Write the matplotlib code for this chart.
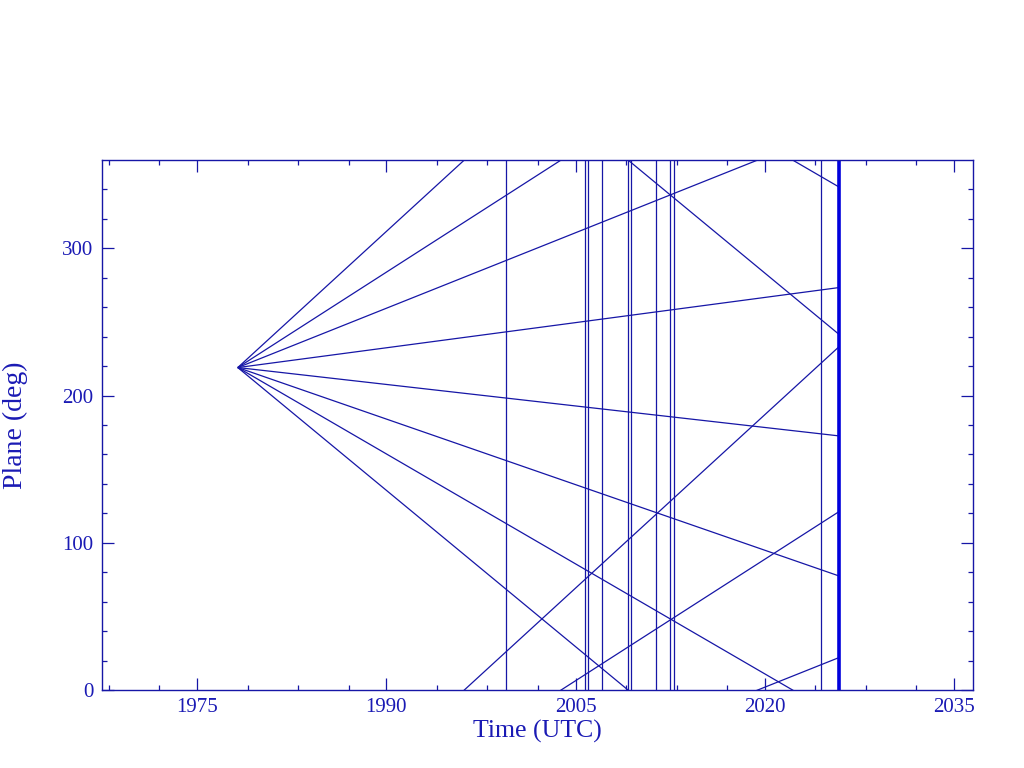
import numpy as np
import matplotlib
matplotlib.use("Agg")
import matplotlib.pyplot as plt
from matplotlib.ticker import FixedLocator

# ---- data ----
t_start = 1978.22          # common epoch of the fan of planes (year)
plane_start = 219.0        # plane at the epoch (deg)
t_end = 2025.85            # end of the propagation (thick marker)
rates = [7.85, 5.50, 3.42, 1.14, -0.974, -2.97, -4.98, -7.08]  # deg / year
event_times = [1999.50, 2005.78, 2005.98, 2007.09, 2009.17, 2009.41,
               2011.40, 2012.52, 2012.81, 2024.48]
x_major = [1975, 1990, 2005, 2020, 2035]
x_minor = [1968, 1972, 1979, 1983, 1987, 1994, 1998, 2002, 2009, 2013,
           2017, 2024, 2028, 2032]
y_major = [0, 100, 200, 300]
y_minor = list(range(20, 360, 20))
xlim = (1967.43, 2036.53)
ylim = (0, 360)

thin = "#1616a6"
thick = "#0000dc"
txt = "#1a1ab4"

fig = plt.figure(figsize=(10.24, 7.68), dpi=100)
ax = fig.add_axes([0.0993, 0.1016, 0.9505 - 0.0993, 0.7917 - 0.1016])

# fan of planes, wrapped modulo 360 (axes clip the out-of-range copies)
t = np.array([t_start, t_end])
for r in rates:
    p = plane_start + r * (t - t_start)
    for k in (-2, -1, 0, 1, 2):
        ax.plot(t, p + 360 * k, color=thin, lw=0.9, solid_capstyle="butt")

for te in event_times:
    ax.axvline(te, color=thin, lw=0.9)
ax.axvline(t_end, color=thick, lw=2.6)

ax.set_xlim(*xlim)
ax.set_ylim(*ylim)

ax.xaxis.set_major_locator(FixedLocator(x_major))
ax.xaxis.set_minor_locator(FixedLocator(x_minor))
ax.yaxis.set_major_locator(FixedLocator(y_major))
ax.yaxis.set_minor_locator(FixedLocator(y_minor))

for s in ax.spines.values():
    s.set_color(thin)
    s.set_linewidth(1.0)

ax.tick_params(which="both", direction="in", top=True, right=True,
               color=thin, width=0.9)
ax.tick_params(which="major", length=8.5, labelsize=15, labelcolor=txt, pad=6)
ax.tick_params(which="minor", length=3.8)

serif = ["Liberation Serif", "DejaVu Serif"]
for lab in ax.get_xticklabels() + ax.get_yticklabels():
    lab.set_family(serif)

ax.set_xlabel("Time (UTC)", family=serif, fontsize=18.5, color=txt)
ax.set_ylabel("Plane (deg)", family=serif, fontsize=20, color=txt)
ax.xaxis.set_label_coords(0.5, -0.079)
ax.xaxis.label.set_va("center")
ax.yaxis.set_label_coords(-0.0995, 0.5)
ax.yaxis.label.set_va("center")

fig.savefig("out.png", dpi=100)
